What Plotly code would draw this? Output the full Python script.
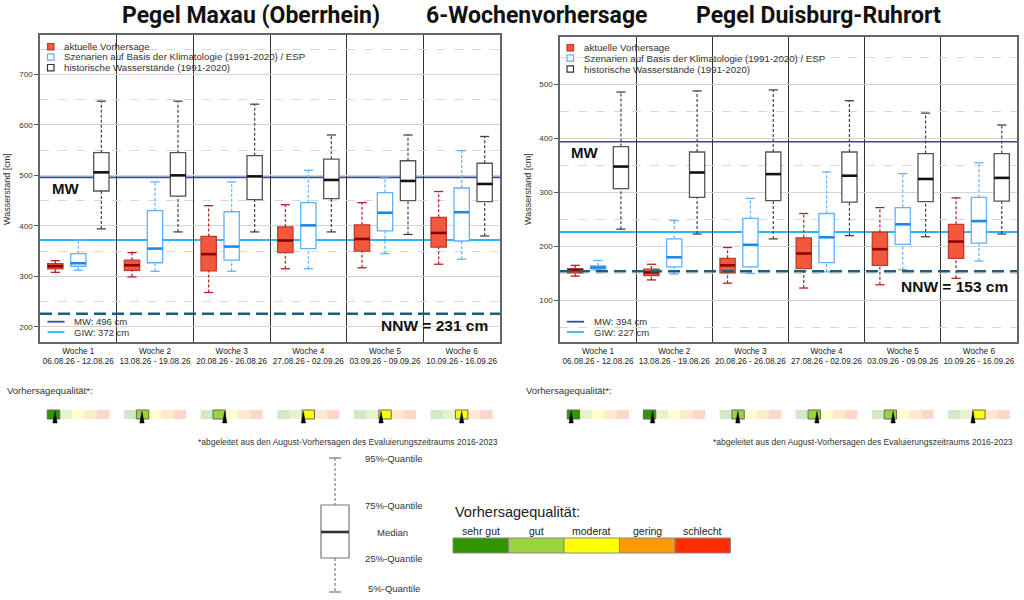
import plotly.graph_objects as go

W, H = 1024, 600
def px(x): return x / W
def py(y): return 1 - y / H

# ---------------- data ----------------
weeks = ["Woche 1", "Woche 2", "Woche 3", "Woche 4", "Woche 5", "Woche 6"]
dates = ["06.08.26 - 12.08.26", "13.08.26 - 19.08.26", "20.08.26 - 26.08.26",
         "27.08.26 - 02.09.26", "03.09.26 - 09.09.26", "10.09.26 - 16.09.26"]

# Maxau: aktuelle Vorhersage
max_fc_lo  = [308, 299, 268, 315, 317, 324]
max_fc_q1  = [315, 312, 311, 347, 350, 358]
max_fc_med = [320, 322, 344, 371, 374, 386]
max_fc_q3  = [325, 332, 379, 398, 402, 417]
max_fc_hi  = [331, 347, 440, 442, 446, 468]
# Maxau: ESP
max_esp_lo  = [312, 310, 310, 315, 345, 334]
max_esp_q1  = [320, 327, 332, 355, 390, 370]
max_esp_med = [326, 355, 359, 401, 426, 427]
max_esp_q3  = [345, 430, 428, 446, 466, 475]
max_esp_hi  = [372, 487, 487, 510, 495, 549]
# Maxau: historisch
max_hist_lo  = [394, 388, 388, 388, 383, 380]
max_hist_q1  = [469, 459, 452, 454, 450, 448]
max_hist_med = [506, 500, 498, 491, 489, 483]
max_hist_q3  = [545, 545, 539, 532, 529, 524]
max_hist_hi  = [647, 647, 641, 580, 580, 577]

# Duisburg-Ruhrort: aktuelle Vorhersage
dui_fc_lo  = [145, 138, 132, 123, 129, 141]
dui_fc_q1  = [151, 146, 151, 159, 165, 178]
dui_fc_med = [156, 152, 165, 187, 195, 209]
dui_fc_q3  = [159, 158, 178, 216, 226, 241]
dui_fc_hi  = [165, 167, 198, 261, 272, 290]
# Duisburg: ESP
dui_esp_lo  = [156, 149, 150, 153, 157, 173]
dui_esp_q1  = [158, 162, 162, 170, 204, 206]
dui_esp_med = [161, 180, 203, 217, 241, 247]
dui_esp_q3  = [164, 214, 252, 261, 272, 291]
dui_esp_hi  = [174, 248, 289, 338, 335, 355]
# Duisburg: historisch
dui_hist_lo  = [232, 223, 214, 220, 218, 223]
dui_hist_q1  = [307, 291, 285, 282, 283, 284]
dui_hist_med = [348, 337, 334, 331, 325, 327]
dui_hist_q3  = [385, 375, 375, 375, 372, 372]
dui_hist_hi  = [486, 488, 490, 470, 447, 425]

# reference levels
max_mw, max_giw, max_nnw, max_nnw_line = 496, 372, 231, 226
dui_mw, dui_giw, dui_nnw, dui_nnw_line = 394, 227, 153, 154

max_yticks = [200, 300, 400, 500, 600, 700]
dui_yticks = [100, 200, 300, 400, 500]

# forecast quality (position on 0..5 scale, class index)
max_quality_score = [0.62, 1.45, 1.94, 2.10, 2.18, 2.50]
max_quality_class = [0, 1, 1, 2, 2, 2]
dui_quality_score = [0.32, 0.74, 1.48, 1.72, 1.72, 2.02]
dui_quality_class = [0, 0, 1, 1, 1, 2]

quality_labels = ["sehr gut", "gut", "moderat", "gering", "schlecht"]
quality_colors = ["#319600", "#9ad43c", "#ffff00", "#ff9900", "#ff2d00"]
quality_pale = ["rgba(49,150,0,0.22)", "rgba(154,212,60,0.25)", "rgba(255,255,0,0.2)",
                "rgba(255,153,0,0.2)", "rgba(255,45,0,0.2)"]

# ---------------- styles ----------------
FONT = "Liberation Sans, Arial, Helvetica, sans-serif"
TITLE_FONT = "Roboto, Liberation Sans, sans-serif"
STY_FC = dict(fill="#f4583c", edge="#c0392b", med="#8b0000", wh="#b22222")
STY_ESP = dict(fill="#ffffff", edge="#62b0ff", med="#1e88e5", wh="#62b0ff")
STY_HIST = dict(fill="#ffffff", edge="#555555", med="#111111", wh="#444444")
BOX_W = 0.2
CAP = 0.06

fig = go.Figure()

def add_boxes(xa, ya, lo, q1, med, q3, hi, off, s):
    xs = [i + off for i in range(len(med))]
    wx, wy, cx, cy, mx, my = [], [], [], [], [], []
    for x, a, b, m, c, d in zip(xs, lo, q1, med, q3, hi):
        wx += [x, x, None, x, x, None]
        wy += [a, b, None, c, d, None]
        cx += [x - CAP, x + CAP, None, x - CAP, x + CAP, None]
        cy += [a, a, None, d, d, None]
        mx += [x - BOX_W / 2, x + BOX_W / 2, None]
        my += [m, m, None]
    common = dict(xaxis=xa, yaxis=ya, showlegend=False, hoverinfo="skip")
    fig.add_trace(go.Scatter(x=wx, y=wy, mode="lines",
                             line=dict(color=s["wh"], width=1.2, dash="3px,2px"), **common))
    fig.add_trace(go.Bar(x=xs, y=[c - b for b, c in zip(q1, q3)], base=q1, width=BOX_W,
                         marker=dict(color=s["fill"], line=dict(color=s["edge"], width=1.3)),
                         **common))
    fig.add_trace(go.Scatter(x=cx, y=cy, mode="lines",
                             line=dict(color=s["wh"], width=1.3), **common))
    fig.add_trace(go.Scatter(x=mx, y=my, mode="lines",
                             line=dict(color=s["med"], width=2.6), **common))

add_boxes("x", "y", max_fc_lo, max_fc_q1, max_fc_med, max_fc_q3, max_fc_hi, 0.2, STY_FC)
add_boxes("x", "y", max_esp_lo, max_esp_q1, max_esp_med, max_esp_q3, max_esp_hi, 0.5, STY_ESP)
add_boxes("x", "y", max_hist_lo, max_hist_q1, max_hist_med, max_hist_q3, max_hist_hi, 0.8, STY_HIST)
add_boxes("x2", "y2", dui_fc_lo, dui_fc_q1, dui_fc_med, dui_fc_q3, dui_fc_hi, 0.2, STY_FC)
add_boxes("x2", "y2", dui_esp_lo, dui_esp_q1, dui_esp_med, dui_esp_q3, dui_esp_hi, 0.5, STY_ESP)
add_boxes("x2", "y2", dui_hist_lo, dui_hist_q1, dui_hist_med, dui_hist_q3, dui_hist_hi, 0.8, STY_HIST)

ticktext = [f"{w}<br>{d}" for w, d in zip(weeks, dates)]
tickpos = [i + 0.5 for i in range(len(weeks))]

def xaxis_cfg(dom):
    return dict(domain=dom, range=[0, len(weeks)], tickvals=tickpos, ticktext=ticktext,
                tickfont=dict(size=8.2, color="#222"), ticks="", showgrid=False,
                zeroline=False, showline=True, mirror=True, linecolor="#666", linewidth=1.5,
                minor=dict(tickvals=list(range(1, len(weeks))), showgrid=True,
                           gridcolor="#333", gridwidth=1.2, ticks=""),
                fixedrange=True)

def yaxis_cfg(dom, rng, ticks, anchor):
    minor_vals = [t + 50 for t in ticks] + [ticks[0] - 50]
    return dict(domain=dom, range=rng, tickvals=ticks, tickfont=dict(size=8, color="#333"),
                ticks="outside", ticklen=4, tickcolor="#555", showgrid=True,
                gridcolor="#d4d4d4", gridwidth=1, zeroline=False, showline=True, mirror=True,
                linecolor="#666", linewidth=1.5, anchor=anchor,
                minor=dict(tickvals=minor_vals, showgrid=True, gridcolor="#d8d8d8",
                           griddash="dash", gridwidth=1, ticks=""),
                fixedrange=True)

L = dict(x0=40, x1=500, y0=35, y1=342)
R = dict(x0=560, x1=1017, y0=37, y1=342)

fig.update_layout(
    width=W, height=H, autosize=False, margin=dict(l=0, r=0, t=0, b=0),
    paper_bgcolor="white", plot_bgcolor="white", barmode="overlay",
    font=dict(family=FONT, color="#222"), showlegend=False,
    xaxis=xaxis_cfg([px(L["x0"]), px(L["x1"])]),
    yaxis=yaxis_cfg([py(L["y1"]), py(L["y0"])], [170, 778], max_yticks, "x"),
    xaxis2=dict(xaxis_cfg([px(R["x0"]), px(R["x1"])]), anchor="y2"),
    yaxis2=yaxis_cfg([py(R["y1"]), py(R["y0"])], [23, 588], dui_yticks, "x2"),
)
fig.layout.xaxis.anchor = "y"

shapes, ann = [], []

def add_text(x, y, text, size=9, xanchor="left", bold=False, family=FONT, color="#222", angle=0):
    ann.append(dict(x=px(x), y=py(y), xref="paper", yref="paper", text=(f"<b>{text}</b>" if bold else text),
                    showarrow=False, xanchor=xanchor, yanchor="middle",
                    font=dict(size=size, family=family, color=color), textangle=angle))

# reference lines
for xa, ya, mw, giw, nnw_line in [("x", "y", max_mw, max_giw, max_nnw_line),
                                   ("x2", "y2", dui_mw, dui_giw, dui_nnw_line)]:
    shapes.append(dict(type="line", xref=xa, yref=ya, x0=0, x1=len(weeks), y0=mw, y1=mw,
                       line=dict(color="#3b4a8f", width=1.6), layer="below"))
    shapes.append(dict(type="line", xref=xa, yref=ya, x0=0, x1=len(weeks), y0=giw, y1=giw,
                       line=dict(color="#29b6f6", width=2), layer="below"))
    shapes.append(dict(type="line", xref=xa, yref=ya, x0=0, x1=len(weeks), y0=nnw_line, y1=nnw_line,
                       line=dict(color="#1f5e7a", width=2.6, dash="12px,6px"), layer="above"))

# titles
add_text(251, 16, "Pegel Maxau (Oberrhein)", size=23, xanchor="center", bold=True, family=TITLE_FONT, color="#111")
add_text(537, 16, "6-Wochenvorhersage", size=23, xanchor="center", bold=True, family=TITLE_FONT, color="#111")
add_text(818, 16, "Pegel Duisburg-Ruhrort", size=23, xanchor="center", bold=True, family=TITLE_FONT, color="#111")

# panel decorations
for P, lx, ly, mwy, nnwx, nnwy, mw, giw, nnw, yt in [
        (L, 47.5, [46.7, 57, 67.7], 189, 490, 325, max_mw, max_giw, max_nnw, 7),
        (R, 567, [47.7, 58, 69], 152, 1010, 286, dui_mw, dui_giw, dui_nnw, 528)]:
    kinds = [("#f4583c", "#c0392b", "aktuelle Vorhersage"),
             ("white", "#62b0ff", "Szenarien auf Basis der Klimatologie (1991-2020) / ESP"),
             ("white", "#333333", "historische Wasserstände (1991-2020)")]
    for (fc, ec, txt), yy in zip(kinds, ly):
        shapes.append(dict(type="rect", xref="paper", yref="paper", x0=px(lx), x1=px(lx + 6.5),
                           y0=py(yy + 3.2), y1=py(yy - 3.2), fillcolor=fc, line=dict(color=ec, width=1.2)))
        add_text(lx + 14.5, yy, txt, size=9.7, color="#333")
    # MW / GIW legend
    for col, yy, txt in [("#3b4a8f", 321.7, f"MW: {mw} cm"), ("#29b6f6", 332, f"GIW: {giw} cm")]:
        shapes.append(dict(type="line", xref="paper", yref="paper", x0=px(lx), x1=px(lx + 17),
                           y0=py(yy), y1=py(yy), line=dict(color=col, width=1.8)))
        add_text(lx + 24.5, yy, txt, size=9.5, color="#333")
    add_text(lx + 2, mwy, "MW", size=15, bold=True, color="#111")
    add_text(nnwx, nnwy, f"NNW = {nnw} cm", size=15.5, xanchor="right", bold=True, color="#111")
    add_text(yt, 189, "Wasserstand [cm]", size=9, xanchor="center", angle=-90, color="#333")

# quality strips
STRIP_Y0, STRIP_Y1 = 410, 419
for xa, scores, classes, lab_x, note_x in [("x", max_quality_score, max_quality_class, 5, 500),
                                           ("x2", dui_quality_score, dui_quality_class, 524, 1015)]:
    add_text(lab_x, 390, "Vorhersagequalität*:", size=9.5, color="#333")
    add_text(note_x, 442, "*abgeleitet aus den August-Vorhersagen des Evaluierungszeitraums 2016-2023",
             size=8.5, xanchor="right", color="#333")
    sw = 0.81
    for i, (sc, cl) in enumerate(zip(scores, classes)):
        x0 = i + 0.5 - sw / 2
        seg = sw / 5
        for k in range(5):
            shapes.append(dict(type="rect", xref=xa, yref="paper", x0=x0 + k * seg, x1=x0 + (k + 1) * seg,
                               y0=py(STRIP_Y1), y1=py(STRIP_Y0), fillcolor=quality_pale[k],
                               line=dict(width=0), layer="above"))
        shapes.append(dict(type="rect", xref=xa, yref="paper", x0=x0 + cl * seg, x1=x0 + (cl + 1) * seg,
                           y0=py(STRIP_Y1), y1=py(STRIP_Y0), fillcolor=quality_colors[cl],
                           line=dict(color="#666", width=1), layer="above"))
        tx = x0 + sc * seg
        hw = 0.028
        shapes.append(dict(type="path", xref=xa, yref="paper",
                           path=f"M {tx - hw} {py(423)} L {tx + hw} {py(423)} L {tx} {py(411.5)} Z",
                           fillcolor="black", line=dict(color="black", width=0.5), layer="above"))

# box-plot explanation
bx0, bx1, bxc = 321, 349, 335
shapes.append(dict(type="rect", xref="paper", yref="paper", x0=px(bx0), x1=px(bx1), y0=py(558), y1=py(505),
                   fillcolor="white", line=dict(color="#777", width=1.2)))
shapes.append(dict(type="line", xref="paper", yref="paper", x0=px(bx0), x1=px(bx1), y0=py(532), y1=py(532),
                   line=dict(color="#333", width=2.6)))
for ya_, yb_ in [(458, 505), (558, 592)]:
    shapes.append(dict(type="line", xref="paper", yref="paper", x0=px(bxc), x1=px(bxc), y0=py(ya_), y1=py(yb_),
                       line=dict(color="#777", width=1.1, dash="3px,2px")))
for yy in [458, 592]:
    shapes.append(dict(type="line", xref="paper", yref="paper", x0=px(bxc - 6), x1=px(bxc + 6), y0=py(yy), y1=py(yy),
                       line=dict(color="#777", width=1.2)))
add_text(363, 458, "95%-Quantile", size=9.5, color="#333")
add_text(363, 505, "75%-Quantile", size=9.5, color="#333")
add_text(392, 532, "Median", size=9.5, xanchor="center", color="#333")
add_text(363, 558, "25%-Quantile", size=9.5, color="#333")
add_text(366, 588, "5%-Quantile", size=9.5, color="#333")

# quality explanation
add_text(453, 512, "Vorhersagequalität:", size=14.5, color="#222")
qx0, qw = 453, 55.5
for k, (lab, col) in enumerate(zip(quality_labels, quality_colors)):
    shapes.append(dict(type="rect", xref="paper", yref="paper", x0=px(qx0 + k * qw), x1=px(qx0 + (k + 1) * qw),
                       y0=py(553), y1=py(538), fillcolor=col, line=dict(color="#888", width=1)))
    add_text(qx0 + (k + 0.5) * qw, 531, lab, size=10.5, xanchor="center", color="#222")

fig.update_layout(shapes=shapes, annotations=ann)
fig.write_html("out.html", config={"displayModeBar": False},
               post_script="document.body.style.margin='0';document.body.style.overflow='hidden';")
